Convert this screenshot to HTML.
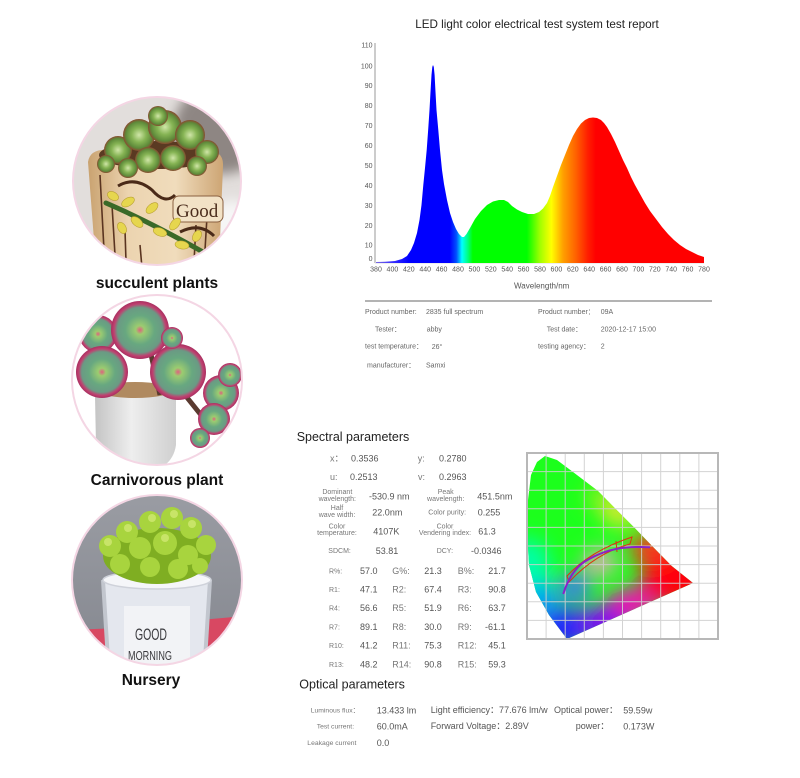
<!DOCTYPE html>
<html><head><meta charset="utf-8">
<style>
html,body{margin:0;padding:0;background:#fff;}
body{width:800px;height:778px;overflow:hidden;}
svg{display:block;font-family:"Liberation Sans","Noto Sans CJK SC",sans-serif;}
</style></head>
<body>
<svg width="800" height="778" viewBox="0 0 800 778" xmlns="http://www.w3.org/2000/svg">
<defs>
  <linearGradient id="spec" gradientUnits="userSpaceOnUse" x1="376" y1="0" x2="704" y2="0">
    <stop offset="0" stop-color="#7a6ae0"/>
    <stop offset="0.05" stop-color="#3a30ff"/>
    <stop offset="0.10" stop-color="#0000ff"/>
    <stop offset="0.225" stop-color="#0000ff"/>
    <stop offset="0.245" stop-color="#0050ff"/>
    <stop offset="0.262" stop-color="#00ffff"/>
    <stop offset="0.28" stop-color="#00ff80"/>
    <stop offset="0.295" stop-color="#00ff00"/>
    <stop offset="0.46" stop-color="#00ff00"/>
    <stop offset="0.50" stop-color="#a0ff00"/>
    <stop offset="0.535" stop-color="#ffff00"/>
    <stop offset="0.57" stop-color="#ffa000"/>
    <stop offset="0.61" stop-color="#ff6000"/>
    <stop offset="0.645" stop-color="#ff2000"/>
    <stop offset="0.67" stop-color="#ff0000"/>
    <stop offset="1" stop-color="#ff0000"/>
  </linearGradient>
  <filter id="b10" x="-50%" y="-50%" width="200%" height="200%"><feGaussianBlur stdDeviation="10"/></filter>
  <filter id="b6" x="-50%" y="-50%" width="200%" height="200%"><feGaussianBlur stdDeviation="6"/></filter>
  <clipPath id="horse">
    <path d="M545,456 L557,460 L573,472 L598,491 L616.7,510 L635,528.3 L653.3,547.3 L671.7,566 L693,583 L567,639 L549,615 L536,592 L529,565 L527,530 L528,500 L531,475 L537,462 Z"/>
  </clipPath>
  <clipPath id="c1"><circle cx="157" cy="181" r="84"/></clipPath>
  <clipPath id="c2"><circle cx="157" cy="380" r="85"/></clipPath>
  <clipPath id="c3"><circle cx="157" cy="580" r="85"/></clipPath>
  <radialGradient id="succ" cx="0.5" cy="0.5" r="0.5">
    <stop offset="0" stop-color="#d0e6a8"/>
    <stop offset="0.45" stop-color="#86b454"/>
    <stop offset="0.82" stop-color="#5e8a3a"/>
    <stop offset="1" stop-color="#8a4a30"/>
  </radialGradient>
  <radialGradient id="ros" cx="0.5" cy="0.5" r="0.5">
    <stop offset="0" stop-color="#e06080"/>
    <stop offset="0.15" stop-color="#9ccc70"/>
    <stop offset="0.5" stop-color="#68a880"/>
    <stop offset="0.78" stop-color="#6a9a84"/>
    <stop offset="0.9" stop-color="#c04070"/>
    <stop offset="1" stop-color="#a83060"/>
  </radialGradient>
  <linearGradient id="pot1" x1="0" y1="0" x2="1" y2="0">
    <stop offset="0" stop-color="#c9a270"/>
    <stop offset="0.3" stop-color="#ecd4b0"/>
    <stop offset="0.65" stop-color="#f0dcbc"/>
    <stop offset="1" stop-color="#cda574"/>
  </linearGradient>
  <linearGradient id="pot2" x1="0" y1="0" x2="1" y2="0">
    <stop offset="0" stop-color="#c4c4c4"/>
    <stop offset="0.45" stop-color="#eeeeee"/>
    <stop offset="1" stop-color="#cfcfcf"/>
  </linearGradient>
  <linearGradient id="bg3" x1="0" y1="0" x2="0" y2="1">
    <stop offset="0" stop-color="#9a9ca3"/>
    <stop offset="1" stop-color="#84878f"/>
  </linearGradient>
</defs>

<!-- Circle 1 -->
<g clip-path="url(#c1)">
  <rect x="70" y="95" width="175" height="175" fill="#e2dedc"/>
  <ellipse cx="222" cy="128" rx="48" ry="46" fill="#8e8683" filter="url(#b6)"/>
  <ellipse cx="232" cy="240" rx="28" ry="40" fill="#f6f6f6" filter="url(#b6)"/>
  <path d="M88,162 Q90,148 110,150 L205,150 Q224,150 223,166 L220,240 Q214,268 157,272 Q100,268 94,240 Z" fill="url(#pot1)"/>
  <path d="M100,175 L104,250 M112,205 L115,255 M125,230 L126,262 M208,200 L205,250 M196,225 L194,262 M140,245 L142,268" stroke="#5a3420" stroke-width="1.6" fill="none"/>
  <path d="M118,186 Q135,176 152,190 Q165,205 175,195 M180,232 Q200,222 214,236" stroke="#4a2a18" stroke-width="3" fill="none"/>
  <rect x="173" y="196" width="50" height="26" rx="6" fill="#f2e2c6" stroke="#8a6040" stroke-width="1"/>
  <text x="176" y="217" font-family="'Liberation Serif',serif" font-size="19" fill="#4a2c1c">Good</text>
  <path d="M106,203 Q150,222 203,252" stroke="#3a6a28" stroke-width="5" fill="none" stroke-linecap="round"/>
  <g fill="#e6d64e" stroke="#b8a030" stroke-width="0.6">
    <ellipse cx="113" cy="196" rx="6" ry="4" transform="rotate(30 113 196)"/>
    <ellipse cx="128" cy="202" rx="7" ry="4" transform="rotate(-30 128 202)"/>
    <ellipse cx="137" cy="222" rx="7" ry="4" transform="rotate(40 137 222)"/>
    <ellipse cx="152" cy="208" rx="7" ry="4" transform="rotate(-40 152 208)"/>
    <ellipse cx="160" cy="232" rx="7" ry="4" transform="rotate(20 160 232)"/>
    <ellipse cx="175" cy="224" rx="7" ry="4" transform="rotate(-50 175 224)"/>
    <ellipse cx="182" cy="245" rx="7" ry="4" transform="rotate(10 182 245)"/>
    <ellipse cx="197" cy="236" rx="6" ry="4" transform="rotate(-60 197 236)"/>
    <ellipse cx="122" cy="228" rx="6" ry="4" transform="rotate(60 122 228)"/>
  </g>
  <ellipse cx="157" cy="155" rx="58" ry="14" fill="#5a3a22"/>
  <g>
    <circle cx="118" cy="150" r="14" fill="url(#succ)"/>
    <circle cx="139" cy="135" r="16" fill="url(#succ)"/>
    <circle cx="165" cy="127" r="17" fill="url(#succ)"/>
    <circle cx="190" cy="135" r="15" fill="url(#succ)"/>
    <circle cx="207" cy="152" r="12" fill="url(#succ)"/>
    <circle cx="106" cy="164" r="9" fill="url(#succ)"/>
    <circle cx="148" cy="160" r="13" fill="url(#succ)"/>
    <circle cx="173" cy="158" r="13" fill="url(#succ)"/>
    <circle cx="197" cy="166" r="10" fill="url(#succ)"/>
    <circle cx="128" cy="168" r="10" fill="url(#succ)"/>
    <circle cx="158" cy="116" r="10" fill="url(#succ)"/>
  </g>
</g>
<circle cx="157" cy="181" r="84" fill="none" stroke="#f4d6e4" stroke-width="2"/>
<text x="157" y="288" text-anchor="middle" font-size="15.5" font-weight="bold" fill="#111">succulent plants</text>

<!-- Circle 2 -->
<g clip-path="url(#c2)">
  <rect x="70" y="294" width="175" height="175" fill="#ffffff"/>
  <path d="M95,396 Q96,386 135,386 Q175,386 176,396 L176,445 Q172,472 136,474 Q100,472 96,445 Z" fill="url(#pot2)"/>
  <ellipse cx="135" cy="390" rx="38" ry="8" fill="#b08a60"/>
  <path d="M150,350 L160,395 M185,395 L205,420" stroke="#5a3a30" stroke-width="5" fill="none"/>
  <circle cx="98" cy="334" r="19" fill="url(#ros)"/>
  <circle cx="140" cy="330" r="29" fill="url(#ros)"/>
  <circle cx="102" cy="372" r="26" fill="url(#ros)"/>
  <circle cx="178" cy="372" r="28" fill="url(#ros)"/>
  <circle cx="221" cy="393" r="18" fill="url(#ros)"/>
  <circle cx="214" cy="419" r="16" fill="url(#ros)"/>
  <circle cx="172" cy="338" r="11" fill="url(#ros)"/>
  <circle cx="230" cy="375" r="12" fill="url(#ros)"/>
  <circle cx="200" cy="438" r="10" fill="url(#ros)"/>
</g>
<circle cx="157" cy="380" r="85" fill="none" stroke="#f4d6e4" stroke-width="2"/>
<text x="157" y="485" text-anchor="middle" font-size="15.5" font-weight="bold" fill="#111">Carnivorous plant</text>

<!-- Circle 3 -->
<g clip-path="url(#c3)">
  <rect x="70" y="494" width="175" height="175" fill="url(#bg3)"/>
  <polygon points="70,630 120,628 200,620 245,616 245,670 70,670" fill="#d84862"/>
  <path d="M103,580 L210,580 L207,655 Q157,674 106,655 Z" fill="#e4e7ee"/>
  <path d="M103,580 L108,660 M210,580 L205,660" stroke="#c2c6ce" stroke-width="4" fill="none"/>
  <rect x="124" y="606" width="66" height="64" fill="#f2f3f6"/>
  <ellipse cx="157" cy="580" rx="54" ry="9" fill="#f5f6f9" stroke="#cfd2da" stroke-width="1.5"/>
  <ellipse cx="157" cy="556" rx="54" ry="28" fill="#7fae22"/>
  <g fill="#a8d43e">
    <circle cx="110" cy="546" r="11"/><circle cx="127" cy="532" r="11"/><circle cx="150" cy="522" r="11"/>
    <circle cx="172" cy="518" r="11"/><circle cx="191" cy="528" r="11"/><circle cx="206" cy="545" r="10"/>
    <circle cx="140" cy="548" r="11"/><circle cx="165" cy="543" r="12"/><circle cx="188" cy="555" r="10"/>
    <circle cx="120" cy="564" r="10"/><circle cx="150" cy="567" r="10"/><circle cx="178" cy="569" r="10"/>
    <circle cx="200" cy="566" r="8"/>
  </g>
  <g fill="#c8e468">
    <circle cx="128" cy="528" r="4"/><circle cx="152" cy="518" r="4"/><circle cx="174" cy="514" r="4"/>
    <circle cx="192" cy="524" r="4"/><circle cx="108" cy="542" r="4"/><circle cx="165" cy="538" r="4"/>
  </g>
  <text x="151" y="640" text-anchor="middle" font-size="17" fill="#3a3a3e" textLength="32" lengthAdjust="spacingAndGlyphs">GOOD</text>
  <text x="150" y="660" text-anchor="middle" font-size="13" fill="#3a3a3e" textLength="44" lengthAdjust="spacingAndGlyphs">MORNING</text>
</g>
<circle cx="157" cy="580" r="85" fill="none" stroke="#f4d6e4" stroke-width="2"/>
<text x="151" y="685" text-anchor="middle" font-size="15.5" font-weight="bold" fill="#111">Nursery</text>

<!-- Spectrum chart -->
<text x="537" y="28" text-anchor="middle" font-size="11.7" fill="#222">LED light color electrical test system test report</text>
<line x1="375" y1="43" x2="375" y2="263" stroke="#aaa" stroke-width="1.2"/>
<line x1="375" y1="263" x2="704" y2="263" stroke="#ddd" stroke-width="1"/>
<g font-size="7" fill="#555" text-anchor="end">
  <text x="372.5" y="47.5">110</text>
  <text x="372.5" y="68.5">100</text>
  <text x="372.5" y="88.2">90</text>
  <text x="372.5" y="108.2">80</text>
  <text x="372.5" y="128.2">70</text>
  <text x="372.5" y="148.2">60</text>
  <text x="372.5" y="168.2">50</text>
  <text x="372.5" y="188.2">40</text>
  <text x="372.5" y="208.2">30</text>
  <text x="372.5" y="228.2">20</text>
  <text x="372.5" y="247.5">10</text>
  <text x="372.5" y="260.8">0</text>
</g>
<path fill="url(#spec)" d="M376,263 L376,262 L385,261.8 L395,261 L402,259 L407,256 L411,250 L414,243 L417,233 L419.5,220 L421.5,205 L423.3,185 L425,168 L426.7,150 L428.3,128 L429.5,110 L430.5,92 L431.5,75 L432.3,67 L433,65 L433.8,67 L434.6,75 L435.5,92 L436.5,110 L438.3,130 L440,150 L442,170 L444,184 L447,200 L450,213 L453,222 L456,229 L459,234 L462,237 L464,237 L466.5,234 L470,228 L475,219 L481,211 L487,205 L493,201.5 L499,200 L504,200 L508,202 L512,206 L517,209.5 L522,212 L528,214 L534,214 L539,212 L543,208.5 L547,203 L550,196 L553,187 L557,176 L561,165 L565,155 L569,145 L573,136 L577,129 L581,123.5 L585,120 L589,118 L593,117.5 L597,118 L601,120 L604,123 L607,127 L611,134 L615,142 L619,151 L623,160 L627,168 L631,177 L635,185 L640,194 L645,203 L650,211 L656,219 L662,227 L668,234 L674,240 L680,245 L686,249 L692,252 L698,255 L704,257 L704,263 Z"/>
<g font-size="7" fill="#555" text-anchor="middle">
  <text x="376" y="271.5">380</text><text x="392.4" y="271.5">400</text><text x="408.8" y="271.5">420</text>
  <text x="425.2" y="271.5">440</text><text x="441.6" y="271.5">460</text><text x="458" y="271.5">480</text>
  <text x="474.4" y="271.5">500</text><text x="490.8" y="271.5">520</text><text x="507.2" y="271.5">540</text>
  <text x="523.6" y="271.5">560</text><text x="540" y="271.5">580</text><text x="556.4" y="271.5">600</text>
  <text x="572.8" y="271.5">620</text><text x="589.2" y="271.5">640</text><text x="605.6" y="271.5">660</text>
  <text x="622" y="271.5">680</text><text x="638.4" y="271.5">700</text><text x="654.8" y="271.5">720</text>
  <text x="671.2" y="271.5">740</text><text x="687.6" y="271.5">760</text><text x="704" y="271.5">780</text>
</g>
<text x="541.7" y="288.5" text-anchor="middle" font-size="8" fill="#555">Wavelength/nm</text>

<!-- Product table -->
<line x1="365" y1="301" x2="712" y2="301" stroke="#9a9a9a" stroke-width="1.5"/>
<g font-size="7" fill="#666">
  <text x="365" y="314.2">Product number:</text>
  <text x="426" y="314.2">2835 full spectrum</text>
  <text x="538" y="314.2">Product number：</text>
  <text x="600.7" y="314.2">09A</text>
  <text x="375" y="331.5">Tester：</text>
  <text x="426.7" y="331.5">abby</text>
  <text x="546.7" y="331.5">Test date：</text>
  <text x="600.7" y="331.5">2020-12-17  15:00</text>
  <text x="365" y="348.5">test temperature：</text>
  <text x="431.7" y="349">26°</text>
  <text x="538" y="348.5">testing agency：</text>
  <text x="600.7" y="348.5">2</text>
  <text x="367" y="367.5">manufacturer：</text>
  <text x="426" y="367.5">Samxi</text>
</g>

<!-- Spectral parameters -->
<text x="296.7" y="441" font-size="12.5" fill="#222">Spectral parameters</text>
<g font-size="9" fill="#555">
  <text x="330" y="461.5" fill="#777">x：</text>
  <text x="351" y="461.5">0.3536</text>
  <text x="417.7" y="461.5" fill="#777">y:</text>
  <text x="439" y="461.5">0.2780</text>
  <text x="330" y="480" fill="#777">u:</text>
  <text x="350" y="480">0.2513</text>
  <text x="418" y="480" fill="#777">v:</text>
  <text x="439" y="480">0.2963</text>
  <text x="369" y="499.5">-530.9 nm</text>
  <text x="477.3" y="499.5">451.5nm</text>
  <text x="372.3" y="515.5">22.0nm</text>
  <text x="477.7" y="515.5">0.255</text>
  <text x="373.3" y="534.5">4107K</text>
  <text x="478.3" y="534.5">61.3</text>
  <text x="375.7" y="554">53.81</text>
  <text x="471" y="554">-0.0346</text>
</g>
<g font-size="7" fill="#777" text-anchor="middle">
  <text x="337.3" y="494">Dominant</text>
  <text x="337.3" y="501">wavelength:</text>
  <text x="445.7" y="494">Peak</text>
  <text x="445.7" y="501">wavelength:</text>
  <text x="337" y="510">Half</text>
  <text x="337" y="517">wave width:</text>
  <text x="337" y="528.5">Color</text>
  <text x="337" y="535">temperature:</text>
  <text x="445" y="528.5">Color</text>
  <text x="445" y="535">Vendering index:</text>
</g>
<g font-size="7" fill="#777">
  <text x="428.3" y="514.5">Color purity:</text>
  <text x="328.3" y="553">SDCM:</text>
  <text x="436.7" y="553">DCY:</text>
  <text x="329" y="573.5">R%:</text>
  <text x="329" y="591.8">R1:</text>
  <text x="329" y="610.5">R4:</text>
  <text x="329" y="629.5">R7:</text>
  <text x="329" y="648.1">R10:</text>
  <text x="329" y="666.8">R13:</text>
</g>
<g font-size="9" fill="#777">
  <text x="392.3" y="574">G%:</text><text x="457.7" y="574">B%:</text>
  <text x="392.3" y="592.3">R2:</text><text x="457.7" y="592.3">R3:</text>
  <text x="392.3" y="611">R5:</text><text x="457.7" y="611">R6:</text>
  <text x="392.3" y="630">R8:</text><text x="457.7" y="630">R9:</text>
  <text x="392.3" y="648.6">R11:</text><text x="457.7" y="648.6">R12:</text>
  <text x="392.3" y="667.3">R14:</text><text x="457.7" y="667.3">R15:</text>
</g>
<g font-size="9" fill="#555">
  <text x="360" y="574">57.0</text><text x="424.3" y="574">21.3</text><text x="488.3" y="574">21.7</text>
  <text x="360" y="592.3">47.1</text><text x="424.3" y="592.3">67.4</text><text x="488.3" y="592.3">90.8</text>
  <text x="360" y="611">56.6</text><text x="424.3" y="611">51.9</text><text x="488.3" y="611">63.7</text>
  <text x="360" y="630">89.1</text><text x="424.3" y="630">30.0</text><text x="485" y="630">-61.1</text>
  <text x="360" y="648.6">41.2</text><text x="424.3" y="648.6">75.3</text><text x="488.3" y="648.6">45.1</text>
  <text x="360" y="667.3">48.2</text><text x="424.3" y="667.3">90.8</text><text x="488.3" y="667.3">59.3</text>
</g>

<!-- CIE diagram -->
<rect x="527" y="453" width="191" height="186" fill="#fff"/>
<g clip-path="url(#horse)">
  <rect x="520" y="450" width="180" height="195" fill="#1cff1c"/>
  <g filter="url(#b10)">
    <ellipse cx="602" cy="497" rx="16" ry="12" fill="#90f020"/>
    <ellipse cx="527" cy="568" rx="24" ry="30" fill="#00ffa8"/>
    <ellipse cx="540" cy="600" rx="18" ry="18" fill="#00a0ff"/>
    <ellipse cx="565" cy="628" rx="30" ry="20" fill="#2020ff"/>
    <ellipse cx="603" cy="622" rx="24" ry="16" fill="#8000ff"/>
    <ellipse cx="632" cy="603" rx="24" ry="14" fill="#ff00c0"/>
    <ellipse cx="678" cy="578" rx="38" ry="28" fill="#ff0010"/>
    <ellipse cx="652" cy="548" rx="22" ry="16" fill="#ff3020"/>
    <ellipse cx="620" cy="513" rx="18" ry="13" fill="#e8e830"/>
    <ellipse cx="600" cy="562" rx="16" ry="12" fill="#ffa0c8"/>
    <ellipse cx="575" cy="587" rx="16" ry="14" fill="#4070ff"/>
  </g>
</g>
<g stroke="#cfcfcf" stroke-width="1" opacity="0.9">
  <line x1="546.1" y1="453" x2="546.1" y2="639"/><line x1="565.2" y1="453" x2="565.2" y2="639"/>
  <line x1="584.3" y1="453" x2="584.3" y2="639"/><line x1="603.4" y1="453" x2="603.4" y2="639"/>
  <line x1="622.5" y1="453" x2="622.5" y2="639"/><line x1="641.6" y1="453" x2="641.6" y2="639"/>
  <line x1="660.7" y1="453" x2="660.7" y2="639"/><line x1="679.8" y1="453" x2="679.8" y2="639"/>
  <line x1="698.9" y1="453" x2="698.9" y2="639"/>
  <line x1="527" y1="471.6" x2="718" y2="471.6"/><line x1="527" y1="490.2" x2="718" y2="490.2"/>
  <line x1="527" y1="508.8" x2="718" y2="508.8"/><line x1="527" y1="527.4" x2="718" y2="527.4"/>
  <line x1="527" y1="546" x2="718" y2="546"/><line x1="527" y1="564.6" x2="718" y2="564.6"/>
  <line x1="527" y1="583.2" x2="718" y2="583.2"/><line x1="527" y1="601.8" x2="718" y2="601.8"/>
  <line x1="527" y1="620.4" x2="718" y2="620.4"/>
</g>
<rect x="527" y="453" width="191" height="186" fill="none" stroke="#b8b8b8" stroke-width="2"/>
<path d="M567,576 Q590,551 632,537 L630,544 Q596,553 569,582 Z" fill="none" stroke="#e03010" stroke-width="1"/>
<line x1="616" y1="541" x2="617" y2="552" stroke="#e03010" stroke-width="1"/>
<path d="M563.3,594 Q570,572 584,562 Q605,549 627,547.5 Q640,546.5 650,547.3" fill="none" stroke="#8a22c8" stroke-width="2"/>

<!-- Optical parameters -->
<text x="299.3" y="688.5" font-size="12.5" fill="#222">Optical parameters</text>
<g font-size="6.8" fill="#777">
  <text x="310.7" y="712.5">Luminous flux：</text>
  <text x="316.7" y="728.5">Test current:</text>
  <text x="307.3" y="745">Leakage current</text>
</g>
<g font-size="9" fill="#555">
  <text x="376.7" y="713.5">13.433 lm</text>
  <text x="430.7" y="713">Light efficiency：77.676 lm/w</text>
  <text x="554" y="713">Optical power：</text>
  <text x="623.3" y="713.5">59.59w</text>
  <text x="376.7" y="729.5">60.0mA</text>
  <text x="430.7" y="729">Forward Voltage：2.89V</text>
  <text x="575.7" y="729">power：</text>
  <text x="623.3" y="729.5">0.173W</text>
  <text x="376.7" y="746">0.0</text>
</g>
</svg>
</body></html>
